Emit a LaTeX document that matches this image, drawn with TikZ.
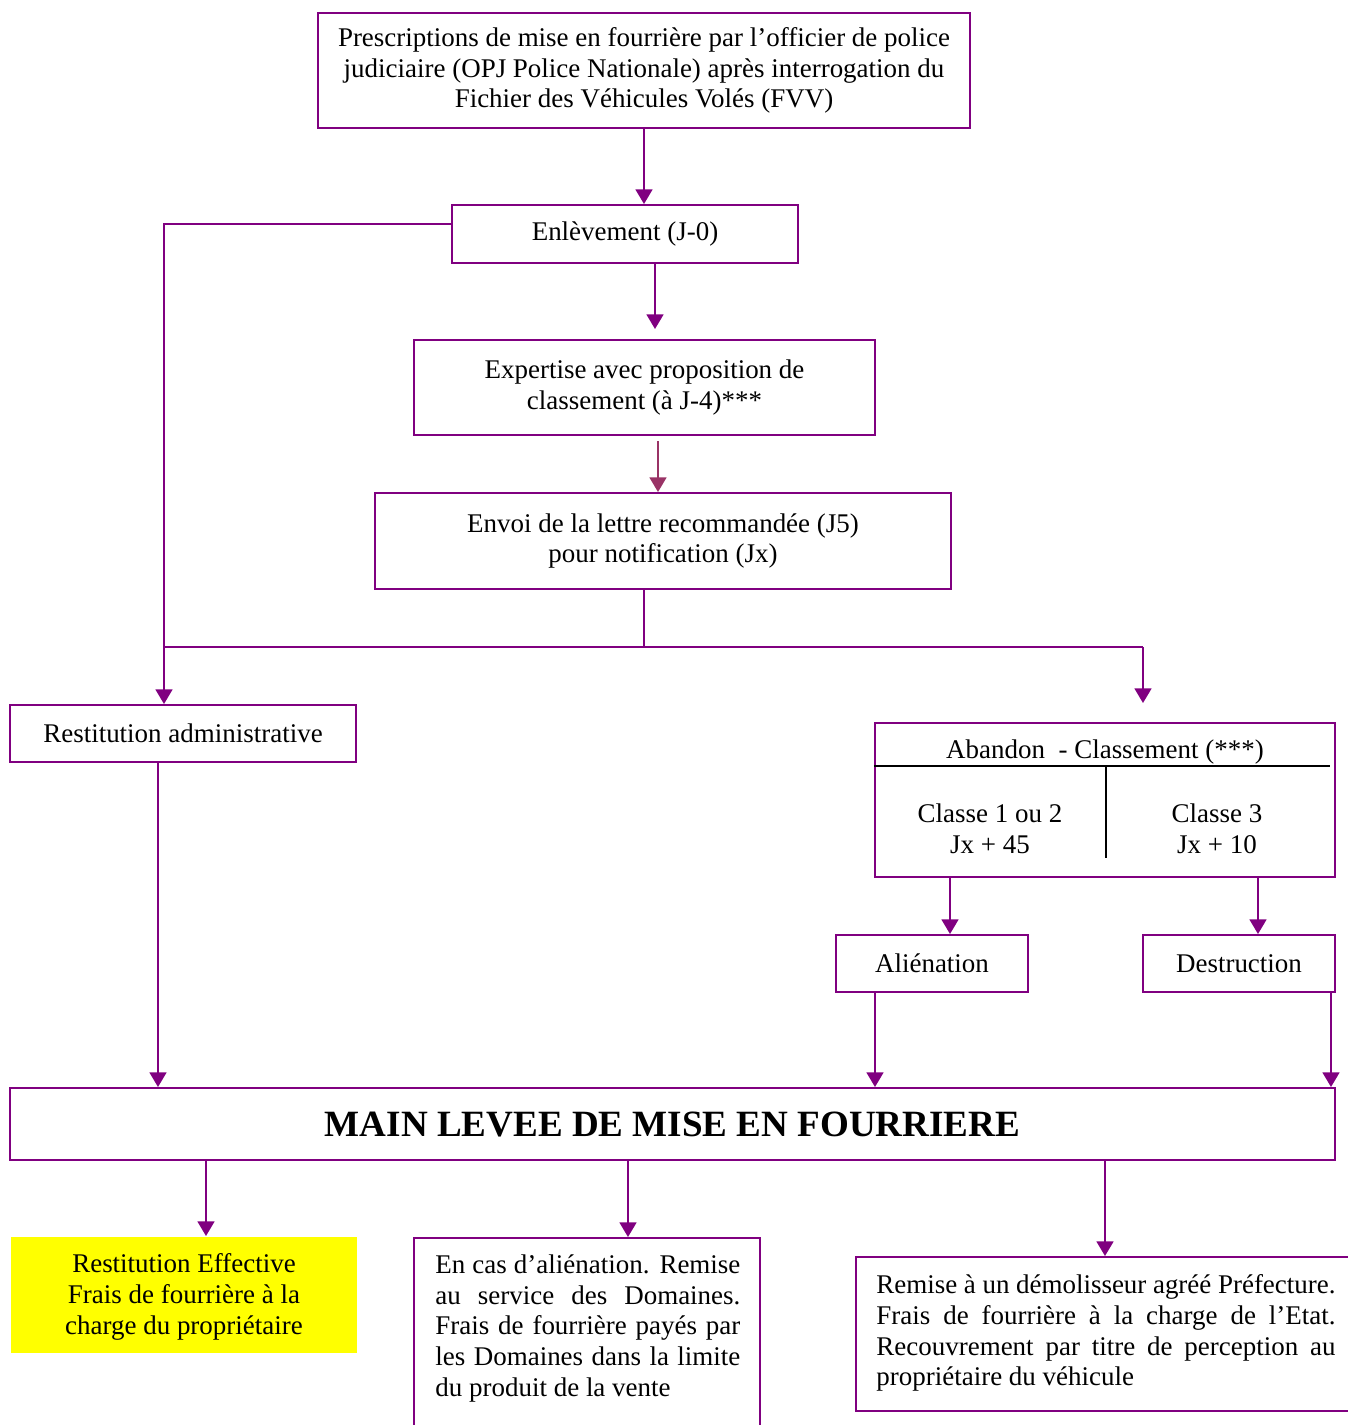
\documentclass[tikz,border=0pt]{standalone}
\usepackage{fontspec}
\setmainfont{Liberation Serif}
\usetikzlibrary{arrows.meta}
\definecolor{pur}{RGB}{128,0,128}
\definecolor{mar}{RGB}{153,51,102}
\definecolor{yel}{RGB}{255,255,0}
\begin{document}
\begin{tikzpicture}[x=0.445pt,y=-0.445pt,
  box/.style 2 args={draw=pur, line width=0.9pt, minimum width=#1*0.445pt, minimum height=#2*0.445pt, inner sep=0pt, align=center, font=\fontsize{12}{13.7}\selectfont},
  arr/.style={color=pur, line width=0.9pt, -{Triangle[width=7.5pt,length=6.5pt]}},
  ln/.style={draw=pur, line width=0.9pt},
  txt/.style={inner sep=0pt, font=\fontsize{12}{13.7}\selectfont},
  divl/.style={draw=black, line width=0.7pt}]
\useasboundingbox (0,0) rectangle (1348,1425);
\clip (0,0) rectangle (1348,1425);

% boxes
\node[box={652}{115}, text depth=2.5pt] (p) at (644,70.5) {Prescriptions de mise en fourrière par l’officier de police\\judiciaire (OPJ Police Nationale) après interrogation du\\Fichier des Véhicules Volés (FVV)};
\node[box={346}{58}] (enl) at (625,234) {Enlèvement (J-0)};
\node[box={461}{95}] (exp) at (644.5,387.5) {Expertise avec proposition de\\classement (à J-4)***};
\node[box={576}{96}] (env) at (663,541) {Envoi de la lettre recommandée (J5)\\pour notification (Jx)};
\node[box={346}{57}] (ra) at (183,733.5) {Restitution administrative};

\node[box={460}{154}] (ab) at (1105,800) {};
\node[txt] (abt) at (1105,752.5) {Abandon\ \ - Classement (***)};
\node[txt, align=center] (c12) at (990,829) {Classe 1 ou 2\\Jx + 45};
\node[txt, align=center] (c3) at (1217,829) {Classe 3\\Jx + 10};
\draw[divl] (ab.west |- 0,766) -- (1330,766);
\draw[divl] (1106,766) -- (1106,858);

\node[box={192}{57}] (ali) at (932,963.5) {Aliénation};
\node[box={192}{57}] (des) at (1239,963.5) {Destruction};

\node[box={1325}{72}, font=\bfseries\fontsize{16.5}{19}\selectfont] (main) at (672.5,1124) {MAIN LEVEE DE MISE EN FOURRIERE};

\node[box={346}{116}, draw=none, fill=yel] (re) at (184,1295) {};
\node[txt, align=center] (ret) at (184,1297) {Restitution Effective\\Frais de fourrière à la\\charge du propriétaire};

\node[box={346}{220}, anchor=north] (dom) at (587,1237) {};
\node[txt, align=left, anchor=north west] (domt) at (435,1254) {%
\makebox[135.7pt][s]{En cas d’aliénation. Remise}\\
\makebox[135.7pt][s]{au service des Domaines.}\\
\makebox[135.7pt][s]{Frais de fourrière payés par}\\
\makebox[135.7pt][s]{les Domaines dans la limite}\\
du produit de la vente};

\node[box={530}{154}, anchor=north west] (dem) at (855,1256) {};
\node[txt, align=left, anchor=north west] (demt) at (876,1274) {%
\makebox[204.3pt][s]{Remise à un démolisseur agréé Préfecture.}\\
\makebox[204.3pt][s]{Frais de fourrière à la charge de l’Etat.}\\
\makebox[204.3pt][s]{Recouvrement par titre de perception au}\\
propriétaire du véhicule};

% connectors
\draw[arr] (p.south) -- (p.south |- enl.north);
\draw[arr] (enl.west |- 0,224) -| (164,0 |- ra.north);
\draw[arr] (enl.south -| 655,0) -- (655,329);
\draw[arr, color=mar] (exp.south -| 658,0) ++(0,5) -- (658,0 |- env.north);
\coordinate (jn) at (644,647);
\draw[ln] (env.south -| jn) -- (jn);
\draw[ln] (164,0 |- jn) -- (1143,0 |- jn);
\coordinate (ja) at (1143,703);
\draw[arr] (1143,0 |- jn) -- (ja);
\draw[arr] (ra.south -| 158,0) -- (158,0 |- main.north);
\draw[arr] (ab.south -| 950,0) -- (950,0 |- ali.north);
\draw[arr] (ab.south -| 1258,0) -- (1258,0 |- des.north);
\draw[arr] (ali.south -| 875,0) -- (875,0 |- main.north);
\draw[arr] (des.south -| 1331,0) -- (1331,0 |- main.north);
\draw[arr] (main.south -| 206,0) -- (206,0 |- re.north);
\draw[arr] (main.south -| 628,0) -- (628,0 |- dom.north);
\draw[arr] (main.south -| 1105,0) -- (1105,0 |- dem.north);
\end{tikzpicture}
\end{document}
